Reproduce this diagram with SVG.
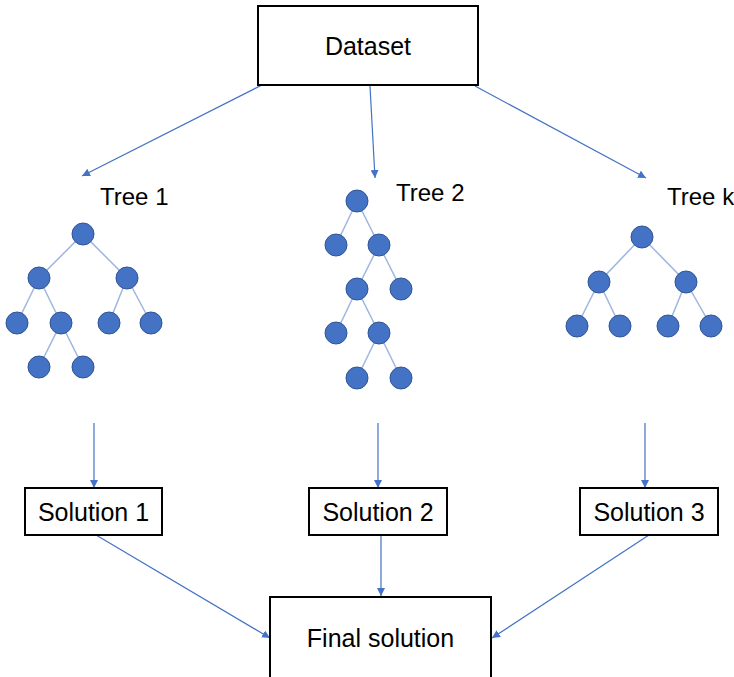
<svg xmlns="http://www.w3.org/2000/svg" width="734" height="677" viewBox="0 0 734 677">
<style>
.box{fill:#fff;stroke:#000;stroke-width:2}
.lbl{font-family:"Liberation Sans",Arial,sans-serif;font-size:25px;fill:#000;text-anchor:middle}
.tl{font-family:"Liberation Sans",Arial,sans-serif;font-size:24px;fill:#000}
.arr{stroke:#4472C4;stroke-width:1.2;fill:none;marker-end:url(#ah)}
.edge{stroke:#9DB5E0;stroke-width:1.5}
.nd{fill:#4472C4;stroke:#2F5597;stroke-width:1}
</style>
<defs>
<marker id="ah" viewBox="0 0 10 10" refX="10" refY="5" markerWidth="8" markerHeight="8" markerUnits="userSpaceOnUse" orient="auto">
<path d="M0,0 L10,5 L0,10 z" fill="#4472C4"/>
</marker>
</defs>
<rect width="734" height="677" fill="#fff"/>
<g id="connectors">
<line class="arr" x1="262" y1="85" x2="82" y2="176"/>
<line class="arr" x1="370" y1="86" x2="375" y2="178"/>
<line class="arr" x1="475" y1="86" x2="646" y2="178"/>
<line class="arr" x1="94" y1="423" x2="94" y2="488"/>
<line class="arr" x1="378" y1="423" x2="378" y2="488"/>
<line class="arr" x1="645" y1="423" x2="645" y2="488"/>
<line class="arr" x1="96" y1="535" x2="270" y2="638"/>
<line class="arr" x1="381" y1="535" x2="381" y2="596"/>
<line class="arr" x1="649" y1="535" x2="492" y2="638"/>
</g>
<g id="dataset">
<rect class="box" x="258" y="6" width="220" height="79"/>
<text class="lbl" x="368" y="55">Dataset</text>
</g>
<g id="tree1">
<text class="tl" x="100" y="205">Tree 1</text>
<g class="edge">
<line x1="83" y1="234" x2="39" y2="278"/><line x1="83" y1="234" x2="127" y2="278"/>
<line x1="39" y1="278" x2="17" y2="323"/><line x1="39" y1="278" x2="61" y2="323"/>
<line x1="127" y1="278" x2="109" y2="323"/><line x1="127" y1="278" x2="151" y2="323"/>
<line x1="61" y1="323" x2="39" y2="367"/><line x1="61" y1="323" x2="83" y2="367"/>
</g>
<g class="nd">
<circle cx="83" cy="234" r="11"/>
<circle cx="39" cy="278" r="11"/><circle cx="127" cy="278" r="11"/>
<circle cx="17" cy="323" r="11"/><circle cx="61" cy="323" r="11"/><circle cx="109" cy="323" r="11"/><circle cx="151" cy="323" r="11"/>
<circle cx="39" cy="367" r="11"/><circle cx="83" cy="367" r="11"/>
</g>
</g>
<g id="tree2">
<text class="tl" x="396" y="201">Tree 2</text>
<g class="edge">
<line x1="357" y1="201" x2="336" y2="245"/><line x1="357" y1="201" x2="379" y2="245"/>
<line x1="379" y1="245" x2="357" y2="289"/><line x1="379" y1="245" x2="401" y2="289"/>
<line x1="357" y1="289" x2="336" y2="333"/><line x1="357" y1="289" x2="379" y2="333"/>
<line x1="379" y1="333" x2="357" y2="378"/><line x1="379" y1="333" x2="401" y2="378"/>
</g>
<g class="nd">
<circle cx="357" cy="201" r="11"/>
<circle cx="336" cy="245" r="11"/><circle cx="379" cy="245" r="11"/>
<circle cx="357" cy="289" r="11"/><circle cx="401" cy="289" r="11"/>
<circle cx="336" cy="333" r="11"/><circle cx="379" cy="333" r="11"/>
<circle cx="357" cy="378" r="11"/><circle cx="401" cy="378" r="11"/>
</g>
</g>
<g id="treek">
<text class="tl" x="667" y="205">Tree k</text>
<g class="edge">
<line x1="642" y1="237" x2="599" y2="282"/><line x1="642" y1="237" x2="686" y2="282"/>
<line x1="599" y1="282" x2="577" y2="326"/><line x1="599" y1="282" x2="620" y2="326"/>
<line x1="686" y1="282" x2="668" y2="326"/><line x1="686" y1="282" x2="711" y2="326"/>
</g>
<g class="nd">
<circle cx="642" cy="237" r="11"/>
<circle cx="599" cy="282" r="11"/><circle cx="686" cy="282" r="11"/>
<circle cx="577" cy="326" r="11"/><circle cx="620" cy="326" r="11"/><circle cx="668" cy="326" r="11"/><circle cx="711" cy="326" r="11"/>
</g>
</g>
<g id="solution1">
<rect class="box" x="25" y="488" width="137" height="47"/>
<text class="lbl" x="93.5" y="521">Solution 1</text>
</g>
<g id="solution2">
<rect class="box" x="309" y="488" width="138" height="47"/>
<text class="lbl" x="378" y="521">Solution 2</text>
</g>
<g id="solution3">
<rect class="box" x="580" y="488" width="138" height="47"/>
<text class="lbl" x="649" y="521">Solution 3</text>
</g>
<g id="final">
<rect class="box" x="270" y="597" width="221" height="82"/>
<text class="lbl" x="380.5" y="647">Final solution</text>
</g>
</svg>
